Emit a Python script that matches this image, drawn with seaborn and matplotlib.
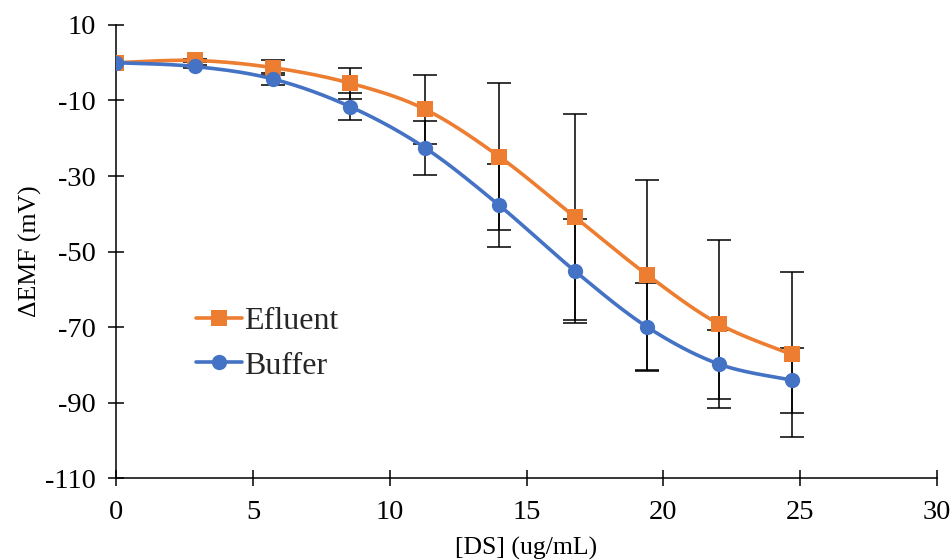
import numpy as np
import pandas as pd
import matplotlib
matplotlib.use("Agg")
import matplotlib.pyplot as plt
from matplotlib.lines import Line2D
import seaborn as sns

# ---- data ----
ds_conc = [0, 2.86, 5.72, 8.54, 11.28, 14.01, 16.76, 19.42, 22.04, 24.69]
efluent = [0.0, 0.6, -1.3, -5.4, -12.3, -24.9, -40.8, -56.2, -69.2, -77.2]
efluent_err = [0.0, 0.4, 2.0, 4.1, 9.1, 19.5, 27.2, 25.1, 22.2, 21.9]
buffer = [0.0, -1.0, -4.3, -11.6, -22.5, -37.8, -55.1, -70.0, -79.8, -84.0]
buffer_err = [0.0, 0.4, 1.6, 3.5, 7.1, 11.1, 13.8, 11.6, 9.1, 8.6]
series_names = ["Efluent", "Buffer"]
x_ticks = [0, 5, 10, 15, 20, 25, 30]
y_ticks = [-110, -90, -70, -50, -30, -10, 10]

ORANGE = "#ED7D31"
BLUE = "#4472C4"

sns.set_theme(style="white")
plt.rcParams["font.family"] = ["Liberation Serif", "DejaVu Serif"]


def smooth_curve(x, y, n=40):
    """Excel-like smoothed line through the data points (Catmull-Rom Bezier)."""
    pts = np.column_stack([x, y]).astype(float)
    out = []
    m = len(pts)
    for i in range(m - 1):
        p0 = pts[i - 1] if i > 0 else pts[i]
        p1 = pts[i]
        p2 = pts[i + 1]
        p3 = pts[i + 2] if i + 2 < m else pts[i + 1]
        c1 = p1 + (p2 - p0) / 6.0
        c2 = p2 - (p3 - p1) / 6.0
        t = np.linspace(0, 1, n, endpoint=(i == m - 2))[:, None]
        seg = ((1 - t) ** 3) * p1 + 3 * ((1 - t) ** 2) * t * c1 + 3 * (1 - t) * t ** 2 * c2 + t ** 3 * p2
        out.append(seg)
    out = np.vstack(out)
    return out[:, 0], out[:, 1]


fig = plt.figure(figsize=(9.51, 5.60), dpi=100)
ax = fig.add_axes([0.1223, 0.146, 0.8627, 0.8095])

series = [
    (series_names[0], efluent, efluent_err, ORANGE, "s", 11),
    (series_names[1], buffer, buffer_err, BLUE, "o", 11),
]

for k, (name, vals, err, col, mk, ms) in enumerate(series):
    ax.errorbar(ds_conc, vals, yerr=err, fmt="none", ecolor="black",
                elinewidth=1.1, capsize=8.5, capthick=1.1, zorder=2 + k * 0.1)

for k, (name, vals, err, col, mk, ms) in enumerate(series):
    sx, sy = smooth_curve(ds_conc, vals)
    sdf = pd.DataFrame({"x": sx, "y": sy})
    sns.lineplot(data=sdf, x="x", y="y", ax=ax, color=col, linewidth=2.6,
                 sort=False, estimator=None, zorder=3 + k)
    pdf = pd.DataFrame({"x": ds_conc, "y": vals})
    sns.scatterplot(data=pdf, x="x", y="y", ax=ax, color=col, marker=mk,
                    s=ms ** 2, linewidth=0, zorder=3.5 + k)

ax.set_xlim(0, 30)
ax.set_ylim(-110, 10)
ax.set_xticks(x_ticks)
ax.set_yticks(y_ticks)
ax.set_xticklabels([str(v) for v in x_ticks])
ax.set_yticklabels([str(v) for v in y_ticks])

for side in ["top", "right"]:
    ax.spines[side].set_visible(False)
for side in ["left", "bottom"]:
    ax.spines[side].set_color("black")
    ax.spines[side].set_linewidth(1.1)

ax.tick_params(axis="both", left=True, bottom=True, direction="inout",
               length=11, width=1.1, colors="black", labelsize=20.5)
ax.tick_params(axis="y", pad=9)
ax.tick_params(axis="x", pad=10)

ax.set_xlabel("[DS] (ug/mL)", fontsize=18.5, color="black", labelpad=9)
ax.set_ylabel("ΔEMF (mV)", fontsize=18.5, color="black", labelpad=2.5)

handles = [
    Line2D([0], [0], color=ORANGE, lw=2.6, marker="s", markersize=11, markeredgewidth=0),
    Line2D([0], [0], color=BLUE, lw=2.6, marker="o", markersize=11, markeredgewidth=0),
]
ax.legend(handles, series_names, loc="upper left", bbox_to_anchor=(0.097, 0.378),
          frameon=False, fontsize=23, handlelength=1.45, handletextpad=0.05,
          labelspacing=0.47, borderpad=0, borderaxespad=0)

fig.savefig("out.png", dpi=100)
